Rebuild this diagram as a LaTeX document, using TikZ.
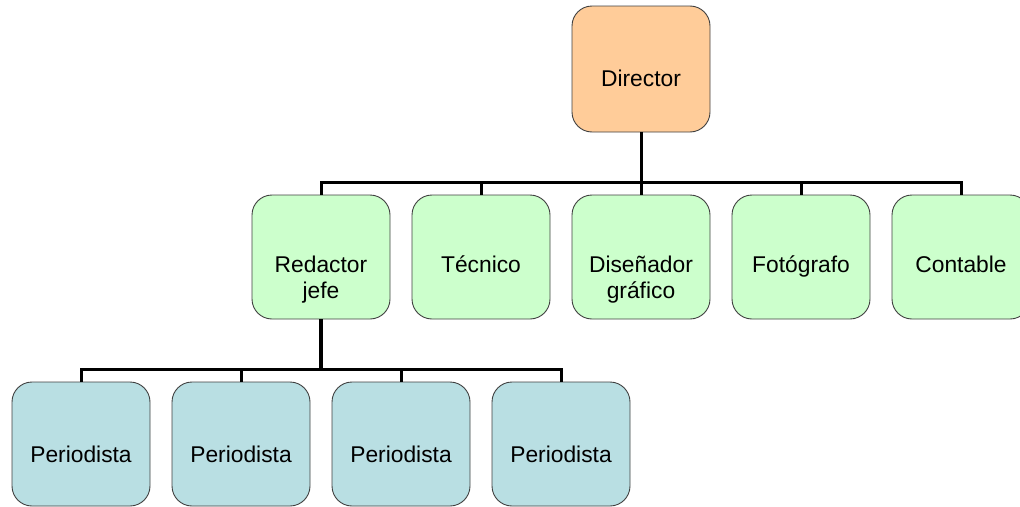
\documentclass[tikz,border=0pt]{standalone}
\usepackage{fontspec}
\setmainfont{Liberation Sans}
\tikzset{
  box/.style={draw=black!75, line width=0.9pt, rounded corners=20pt, minimum width=138pt, minimum height=124pt, inner sep=0pt},
  dirbox/.style={box, fill=dirfill, minimum height=126pt},
  grbox/.style={box, fill=grfill},
  blbox/.style={box, fill=blfill},
  txt/.style={anchor=base, align=center, font=\fontsize{22.8}{26}\selectfont, inner sep=0pt},
  conn/.style={line width=3pt, draw=black},
  thick conn/.style={line width=4pt, draw=black}
}
\definecolor{dirfill}{HTML}{FFCC99}
\definecolor{grfill}{HTML}{CCFFCC}
\definecolor{blfill}{HTML}{B9DFE3}
\begin{document}
\begin{tikzpicture}[x=1pt,y=-1pt]
\useasboundingbox (0,0) rectangle (1020,506);
\clip (0,0) rectangle (1020,506);
% boxes
\node[dirbox] (dir) at (641,69) {};
\node[grbox] (red) at (321,257) {};
\node[grbox] (tec) at (481,257) {};
\node[grbox] (dis) at (641,257) {};
\node[grbox] (fot) at (801,257) {};
\node[grbox] (con) at (961,257) {};
\node[blbox] (p1) at (81,444) {};
\node[blbox] (p2) at (241,444) {};
\node[blbox] (p3) at (401,444) {};
\node[blbox] (p4) at (561,444) {};
% texts
\node[txt] (dirt) at (641,86) {Director};
\node[txt] (redt) at (321,298) {Redactor\\jefe};
\node[txt] (tect) at (481,272) {Técnico};
\node[txt] (dist) at (641,298) {Diseñador\\gráfico};
\node[txt] (fott) at (801,272) {Fotógrafo};
\node[txt] (cont) at (961,272) {Contable};
\node[txt] (p1t) at (81,462) {Periodista};
\node[txt] (p2t) at (241,462) {Periodista};
\node[txt] (p3t) at (401,462) {Periodista};
\node[txt] (p4t) at (561,462) {Periodista};
% connectors
\coordinate (b1) at (641,182);
\coordinate (b2) at (321,369);
\draw[conn] (dir.south) -- (b1);
\draw[conn] (red.north) |- (b1) -| (con.north);
\draw[conn] (tec.north) -- (tec.north |- b1);
\draw[conn] (dis.north) -- (b1);
\draw[conn] (fot.north) -- (fot.north |- b1);
\draw[thick conn] (red.south) -- (b2);
\draw[conn] (p1.north) |- (b2) -| (p4.north);
\draw[conn] (p2.north) -- (p2.north |- b2);
\draw[conn] (p3.north) -- (p3.north |- b2);
\end{tikzpicture}
\end{document}
